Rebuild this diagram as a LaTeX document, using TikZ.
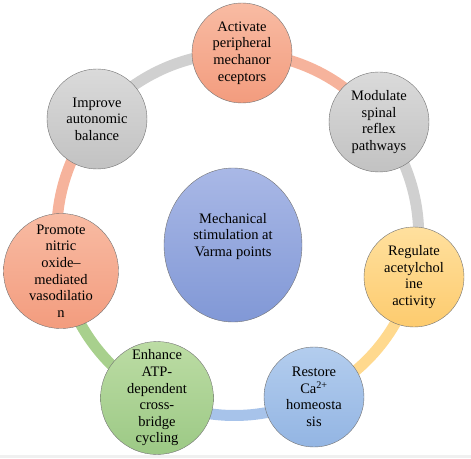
\documentclass[tikz,border=0pt]{standalone}
\usepackage{fontspec}
\setmainfont{Liberation Serif}
\usetikzlibrary{backgrounds,shapes.geometric}

\definecolor{salmontop}{HTML}{F8BBA3}
\definecolor{salmonbot}{HTML}{F39C7E}
\definecolor{graytop}{HTML}{DADADA}
\definecolor{graybot}{HTML}{C2C2C2}
\definecolor{yellowtop}{HTML}{FFE09E}
\definecolor{yellowbot}{HTML}{FDCB6E}
\definecolor{bluetop}{HTML}{B3CDEE}
\definecolor{bluebot}{HTML}{93B5E3}
\definecolor{greentop}{HTML}{BCDCA4}
\definecolor{greenbot}{HTML}{9CC985}
\definecolor{centertop}{HTML}{A9B8E6}
\definecolor{centerbot}{HTML}{8198D6}
\definecolor{salmonarc}{HTML}{F6B39C}
\definecolor{grayarc}{HTML}{D0D0D0}
\definecolor{yellowarc}{HTML}{FFD98E}
\definecolor{bluearc}{HTML}{A7C3EA}
\definecolor{greenarc}{HTML}{A8D08D}

\tikzset{
  effect/.style={circle, draw=black!55, thin, minimum size=100pt, inner sep=0pt,
    align=center, font=\fontsize{14.5}{16.6}\selectfont},
  ring/.style={line width=11pt, bend left=25.7, looseness=0.9},
}

\begin{document}
\begin{tikzpicture}[x=1pt,y=1pt]
  \useasboundingbox (-236,-218) rectangle (235,240);
  % bande du bas
  \fill[black!6] (-236,-218) rectangle (235,-215);
  % centre
  \node[effect, ellipse, minimum width=138pt, minimum height=154pt,
    top color=centertop, bottom color=centerbot] (varma) at (-3,-5)
    {Mechanical\\stimulation at\\Varma points\\[4pt]};
  % effets autour
  \node[effect, top color=salmontop, bottom color=salmonbot] (activate) at (6,187)
    {Activate\\peripheral\\mechanor\\eceptors};
  \node[effect, top color=graytop, bottom color=graybot] (modulate) at (143,118)
    {Modulate\\spinal\\reflex\\pathways};
  \node[effect, top color=yellowtop, bottom color=yellowbot] (regulate) at (178,-37)
    {Regulate\\acetylchol\\ine\\activity};
  \node[effect, top color=bluetop, bottom color=bluebot] (restore) at (78,-157)
    {Restore\\Ca\textsuperscript{2+}\\homeosta\\sis};
  \node[effect, minimum size=102pt, top color=greentop, bottom color=greenbot] (enhance) at (-79,-158)
    {Enhance\\ATP-\\dependent\\cross-\\bridge\\cycling};
  \node[effect, minimum size=115pt, top color=salmontop, bottom color=salmonbot] (promote) at (-175,-31)
    {Promote\\nitric\\oxide--\\mediated\\vasodilatio\\n};
  \node[effect, top color=graytop, bottom color=graybot] (improve) at (-139,121)
    {Improve\\autonomic\\balance};
  % anneau
  \begin{pgfonlayer}{background}
    \draw[ring, salmonarc] (activate.center) to (modulate.center);
    \draw[ring, grayarc]   (modulate.center) to (regulate.center);
    \draw[ring, yellowarc] (regulate.center) to (restore.center);
    \draw[ring, bluearc]   (restore.center)  to (enhance.center);
    \draw[ring, greenarc]  (enhance.center)  to (promote.center);
    \draw[ring, salmonarc] (promote.center)  to (improve.center);
    \draw[ring, grayarc]   (improve.center)  to (activate.center);
  \end{pgfonlayer}
\end{tikzpicture}
\end{document}
